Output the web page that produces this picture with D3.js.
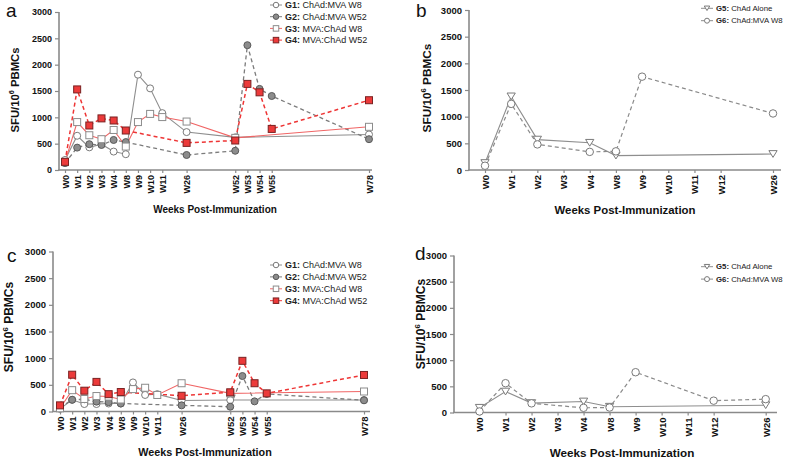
<!DOCTYPE html>
<html><head><meta charset="utf-8">
<script src="https://cdn.jsdelivr.net/npm/d3@7"></script>
<style>body{margin:0;background:#fff} svg{display:block}</style>
</head><body>
<svg id="chart" width="787" height="458"></svg>
<script>
// ---------- DATA ----------
const yTicks = [0, 500, 1000, 1500, 2000, 2500, 3000];

const weeksAC = ["W0","W1","W2","W3","W4","W8","W9","W10","W11","W26","W52","W53","W54","W55","W78"];
const slotsAC = [0,1,2,3,4,5,6,7,8,10,14,15,16,17,25];   // segmented axis slot of each week
const weeksBD = ["W0","W1","W2","W3","W4","W8","W9","W10","W11","W12","W26"];
const slotsBD = [0,1,2,3,4,5,6,7,8,9,11];

const groupsAC = ["G1","G2","G3","G4"];
const labelsAC = ["ChAd:MVA W8","ChAd:MVA W52","MVA:ChAd W8","MVA:ChAd W52"];
const groupsBD = ["G5","G6"];
const labelsBD = ["ChAd Alone","ChAd:MVA W8"];

// panel a
const aG1 = [190, 650, 430, 490, 350, 300, 1810, 1550, 1080, 720, 620, null, null, null, 675];
const aG2 = [130, 425, 490, 475, 570, 530, null, null, null, 285, 365, 2370, 1540, 1405, 585];
const aG3 = [150, 910, 660, 585, 760, 445, 910, 1065, 1005, 920, 610, null, null, null, 820];
const aG4 = [155, 1530, 845, 980, 940, 750, null, null, null, 515, 560, 1635, 1475, 780, 1325];
// panel b
const bG5 = [130, 1380, 570, null, 510, 270, null, null, null, null, 300];
const bG6 = [80, 1240, 480, null, 340, 350, 1750, null, null, null, 1060];
// panel c
const cG1 = [50, 220, 140, 140, 150, 150, 545, 310, 325, 205, 215, null, null, null, 215];
const cG2 = [75, 220, 230, 185, 175, 150, null, null, null, 115, 90, 665, 190, 330, 210];
const cG3 = [60, 400, 235, 290, 280, 225, 420, 445, 310, 530, 340, null, null, null, 375];
const cG4 = [115, 690, 390, 555, 325, 365, null, null, null, 295, 360, 950, 530, 340, 685];
// panel d
const dG5 = [90, 400, 180, null, 210, 110, null, null, null, null, 140];
const dG6 = [20, 560, 175, null, 90, 95, 770, null, null, 226, 255];

// ---------- STYLES ----------
const FONT = "'Liberation Sans', Arial, Helvetica, sans-serif";
const styles = {
  G1: {line:"#8e8e8e", dash:null, width:1.1, shape:"circle", fill:"#ffffff", mstroke:"#7a7a7a"},
  G2: {line:"#7c7c7c", dash:"4,3", width:1.3, shape:"circle", fill:"#8c8c8c", mstroke:"#5a5a5a"},
  G3: {line:"#f06565", dash:null, width:1.1, shape:"square", fill:"#ffffff", mstroke:"#8c8c8c"},
  G4: {line:"#ee3535", dash:"4,3", width:1.5, shape:"square", fill:"#ec3a3a", mstroke:"#7a2222"},
  G5: {line:"#8e8e8e", dash:null, width:1.1, shape:"triangle", fill:"#ffffff", mstroke:"#7a7a7a"},
  G6: {line:"#8a8a8a", dash:"4,3", width:1.2, shape:"circle", fill:"#ffffff", mstroke:"#7a7a7a"}
};

const svg = d3.select("#chart");

function marker(g, shape, cx, cy, size, st) {
  if (shape === "circle") {
    g.append("circle").attr("cx", cx).attr("cy", cy).attr("r", size / 2)
      .attr("fill", st.fill).attr("stroke", st.mstroke).attr("stroke-width", 1);
  } else if (shape === "square") {
    g.append("rect").attr("x", cx - size / 2).attr("y", cy - size / 2)
      .attr("width", size).attr("height", size)
      .attr("fill", st.fill).attr("stroke", st.mstroke).attr("stroke-width", 1);
  } else {
    const h = size * 0.9, w = size * 0.55;
    g.append("path").attr("d", `M${cx - w},${cy - h / 2}L${cx + w},${cy - h / 2}L${cx},${cy + h / 2}Z`)
      .attr("fill", st.fill).attr("stroke", st.mstroke).attr("stroke-width", 1);
  }
}

function drawPanel(p) {
  const g = svg.append("g");
  const x = d3.scaleLinear().domain([0, d3.max(p.slots)]).range(p.xRange);
  const y = d3.scaleLinear().domain([0, 3000]).range(p.yRange);

  // y axis
  const ya = g.append("g").attr("transform", `translate(${p.yAxisX},0)`)
    .call(d3.axisLeft(y).tickValues(yTicks).tickFormat(d3.format("d")).tickSize(4).tickPadding(3).tickSizeOuter(0));
  ya.select(".domain").remove();
  ya.selectAll("line").attr("stroke", "#8a8a8a").attr("stroke-width", 1.2);
  ya.selectAll("text").attr("font-family", FONT).attr("font-weight", "bold")
    .attr("font-size", p.tickFont).attr("fill", "#111");
  g.append("line").attr("x1", p.yAxisX).attr("x2", p.yAxisX)
    .attr("y1", p.yRange[1]).attr("y2", p.yRange[0] + 0.5)
    .attr("stroke", "#8a8a8a").attr("stroke-width", 1.6);

  // x axis
  const xa = g.append("g").attr("transform", `translate(0,${p.yRange[0]})`)
    .call(d3.axisBottom(x).tickValues(p.slots).tickFormat((d, i) => p.weeks[i]).tickSize(3).tickSizeOuter(0));
  xa.select(".domain").remove();
  xa.selectAll("line").attr("stroke", "#8a8a8a").attr("stroke-width", 1.2);
  xa.selectAll("text").attr("font-family", FONT).attr("font-weight", "bold")
    .attr("font-size", p.xTickFont).attr("fill", "#111")
    .attr("transform", "rotate(-90)").attr("text-anchor", "end")
    .attr("x", -5).attr("y", 0).attr("dy", "0.36em");
  g.append("line").attr("x1", p.yAxisX - 0.8).attr("x2", p.xEnd)
    .attr("y1", p.yRange[0]).attr("y2", p.yRange[0])
    .attr("stroke", "#8a8a8a").attr("stroke-width", 1.6);

  // series
  p.series.forEach(s => {
    const st = styles[s.name];
    const pts = s.values.map((v, i) => ({slot: p.slots[i], v})).filter(d => d.v !== null);
    const line = d3.line().x(d => x(d.slot)).y(d => y(d.v));
    g.append("path").datum(pts).attr("d", line).attr("fill", "none")
      .attr("stroke", st.line).attr("stroke-width", st.width)
      .attr("stroke-dasharray", st.dash);
  });
  p.series.forEach(s => {
    const st = styles[s.name];
    s.values.forEach((v, i) => {
      if (v === null) return;
      marker(g, st.shape, x(p.slots[i]), y(v), p.markerSize, st);
    });
  });

  // axis titles
  const yt = g.append("text").attr("font-family", FONT).attr("font-weight", "bold")
    .attr("font-size", p.titleFont).attr("fill", "#111").attr("text-anchor", "middle")
    .attr("transform", `translate(${p.yTitle[0]},${p.yTitle[1]}) rotate(-90)`);
  yt.append("tspan").text("SFU/10");
  yt.append("tspan").text("6").attr("font-size", p.titleFont * 0.65).attr("dy", -p.titleFont * 0.45);
  yt.append("tspan").text(" PBMCs").attr("dy", p.titleFont * 0.45);

  g.append("text").attr("x", p.xTitle[0]).attr("y", p.xTitle[1])
    .attr("font-family", FONT).attr("font-weight", "bold").attr("font-size", p.xTitleFont)
    .attr("fill", "#111").attr("text-anchor", "middle").text("Weeks Post-Immunization");

  // panel letter
  g.append("text").attr("x", p.letterPos[0]).attr("y", p.letterPos[1])
    .attr("font-family", FONT).attr("font-size", 19).attr("fill", "#111").text(p.letter);

  // legend
  p.series.forEach((s, i) => {
    const st = styles[s.name];
    const ly = p.legend.y + i * p.legend.dy;
    const lx = p.legend.x;
    g.append("line").attr("x1", lx - 6).attr("x2", lx + 6).attr("y1", ly).attr("y2", ly)
      .attr("stroke", st.line).attr("stroke-width", 1);
    marker(g, st.shape, lx, ly, p.legend.msize, st);
    const t = g.append("text").attr("x", lx + 9).attr("y", ly).attr("dy", "0.35em")
      .attr("font-family", FONT).attr("font-size", p.legend.font).attr("fill", "#222");
    t.append("tspan").attr("font-weight", "bold").text(s.name + ":");
    t.append("tspan").text(" " + s.label);
  });
}

const mk = (names, labels, arrs) => names.map((n, i) => ({name: n, label: labels[i], values: arrs[i]}));

drawPanel({
  letter: "a", letterPos: [6, 17],
  weeks: weeksAC, slots: slotsAC,
  yAxisX: 59, xRange: [65, 369], xEnd: 372, yRange: [170, 12],
  tickFont: 9, xTickFont: 9, titleFont: 11.3, xTitleFont: 10,
  yTitle: [19, 90], xTitle: [215, 213],
  markerSize: 7,
  series: mk(groupsAC, labelsAC, [aG1, aG2, aG3, aG4]),
  legend: {x: 276, y: 5, dy: 11.7, font: 9, msize: 5.5}
});
drawPanel({
  letter: "b", letterPos: [416, 17],
  weeks: weeksBD, slots: slotsBD,
  yAxisX: 469, xRange: [485, 773], xEnd: 781, yRange: [170, 10],
  tickFont: 9.5, xTickFont: 9.5, titleFont: 11.8, xTitleFont: 11.4,
  yTitle: [431, 88], xTitle: [625, 214],
  markerSize: 7.5,
  series: mk(groupsBD, labelsBD, [bG5, bG6]),
  legend: {x: 707, y: 8.3, dy: 12.4, font: 7.8, msize: 5}
});
drawPanel({
  letter: "c", letterPos: [7, 262],
  weeks: weeksAC, slots: slotsAC,
  yAxisX: 53, xRange: [60, 364], xEnd: 370, yRange: [411.5, 251.5],
  tickFont: 9.5, xTickFont: 9.5, titleFont: 12, xTitleFont: 10.8,
  yTitle: [13, 327], xTitle: [205, 456],
  markerSize: 7,
  series: mk(groupsAC, labelsAC, [cG1, cG2, cG3, cG4]),
  legend: {x: 276, y: 265, dy: 11.9, font: 9, msize: 5.5}
});
drawPanel({
  letter: "d", letterPos: [415, 260],
  weeks: weeksBD, slots: slotsBD,
  yAxisX: 454, xRange: [479.5, 765.7], xEnd: 777, yRange: [412.5, 255.5],
  tickFont: 9.5, xTickFont: 9.5, titleFont: 12, xTitleFont: 11.7,
  yTitle: [425, 324], xTitle: [622, 457],
  markerSize: 7.5,
  series: mk(groupsBD, labelsBD, [dG5, dG6]),
  legend: {x: 707, y: 266.7, dy: 12.4, font: 7.8, msize: 5}
});
</script>
</body></html>
